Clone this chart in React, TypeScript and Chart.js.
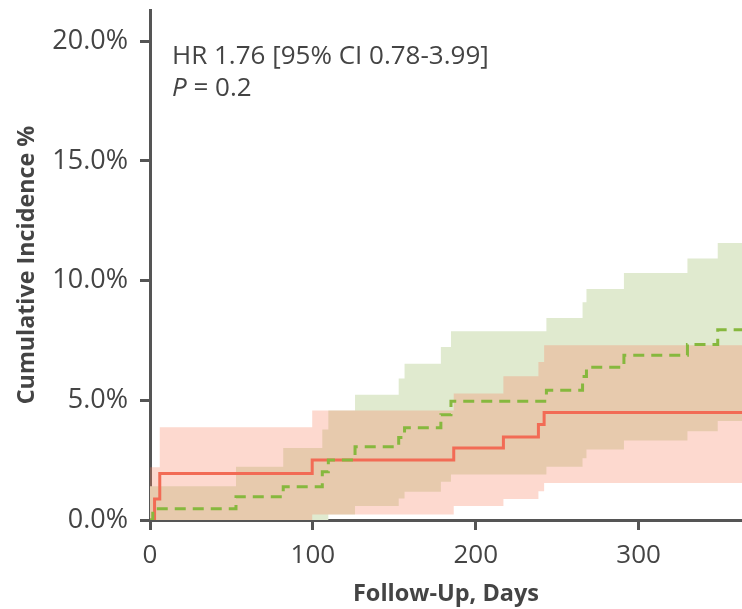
import React, { useEffect, useRef } from 'react';
import { Chart, registerables } from 'chart.js';

Chart.register(...registerables);

// ---- Data (days, cumulative incidence %) ----
const redLineDays = [0, 2.8, 6.0, 99.6, 186.5, 217.0, 238.5, 242.0, 363.5];
const redLineValues = [0, 0.88, 1.94, 2.51, 3.01, 3.47, 3.99, 4.49, 4.49];

const redUpperDays = [0, 6.0, 99.6, 186.5, 217.0, 238.5, 242.0, 363.5];
const redUpperValues = [2.2, 3.87, 4.57, 5.28, 6.0, 6.6, 7.3, 7.3];

const redLowerDays = [0, 99.6, 186.5, 217.0, 238.5, 242.0, 363.5];
const redLowerValues = [0, 0.23, 0.58, 0.88, 1.2, 1.55, 1.55];

const greenLineDays = [0, 1.7, 52.8, 81.8, 105.8, 109.5, 125.9, 152.7, 156.3, 178.6, 184.8, 243.4, 265.6, 268.0, 291.0, 330.0, 348.6, 363.5];
const greenLineValues = [0, 0.47, 0.97, 1.39, 2.01, 2.51, 3.06, 3.45, 3.85, 4.4, 4.96, 5.42, 5.99, 6.38, 6.88, 7.33, 7.95, 7.95];

const greenUpperDays = [0, 52.8, 81.8, 105.8, 109.5, 125.9, 152.7, 156.3, 178.6, 184.8, 243.4, 265.6, 268.0, 291.0, 330.0, 348.6, 363.5];
const greenUpperValues = [1.41, 2.22, 3.01, 3.78, 4.57, 5.23, 5.91, 6.53, 7.23, 7.88, 8.44, 9.09, 9.65, 10.32, 10.92, 11.57, 11.57];

const greenLowerDays = [0, 109.5, 125.9, 152.7, 156.3, 178.6, 184.8, 243.4, 265.6, 268.0, 291.0, 330.0, 348.6, 363.5];
const greenLowerValues = [0, 0.23, 0.58, 0.9, 1.18, 1.6, 1.9, 2.22, 2.58, 2.94, 3.32, 3.71, 4.13, 4.13];

const xTickValues = [0, 100, 200, 300];
const yTickValues = [0, 5, 10, 15, 20];

const hrText = 'HR 1.76 [95% CI 0.78-3.99]';
const pLabel = 'P';
const pValue = ' = 0.2';

const xTitle = 'Follow-Up, Days';
const yTitle = 'Cumulative Incidence %';

const FONT = '"Open Sans", "Noto Sans", sans-serif';
const TEXT = '#444444';
const AXIS = '#555555';

const pts = (xs: number[], ys: number[]) => xs.map((x, i) => ({ x, y: ys[i] }));

const annotationPlugin = {
  id: 'hrAnnotation',
  afterDraw(chart: any) {
    const { ctx, chartArea } = chart;
    const x0 = chartArea.left + 22;
    ctx.save();
    ctx.fillStyle = TEXT;
    ctx.textBaseline = 'alphabetic';
    ctx.textAlign = 'left';
    ctx.font = `26px ${FONT}`;
    ctx.fillText(hrText, x0, chartArea.top + 54);
    ctx.font = `italic 26px ${FONT}`;
    ctx.fillText(pLabel, x0, chartArea.top + 86);
    const w = ctx.measureText(pLabel).width;
    ctx.font = `26px ${FONT}`;
    ctx.fillText(pValue, x0 + w, chartArea.top + 86);
    ctx.restore();
  },
};

export default function App() {
  const ref = useRef<HTMLCanvasElement | null>(null);

  useEffect(() => {
    document.body.style.margin = '0';
    const canvas = ref.current;
    if (!canvas) return;
    const bandLine = { borderWidth: 0, borderColor: 'rgba(0,0,0,0)', pointRadius: 0, stepped: true as const };
    const chart = new Chart(canvas, {
      type: 'line',
      data: {
        datasets: [
          {
            label: 'green',
            data: pts(greenLineDays, greenLineValues),
            borderColor: '#86b83e',
            borderWidth: 3,
            borderDash: [11, 7],
            pointRadius: 0,
            stepped: true,
            fill: false,
            order: 0,
          },
          {
            label: 'red',
            data: pts(redLineDays, redLineValues),
            borderColor: '#f26b55',
            borderWidth: 3,
            pointRadius: 0,
            stepped: true,
            fill: false,
            order: 1,
          },
          {
            label: 'redUpper',
            data: pts(redUpperDays, redUpperValues),
            ...bandLine,
            backgroundColor: 'rgba(248,128,95,0.3)',
            fill: 3,
            order: 2,
          },
          {
            label: 'redLower',
            data: pts(redLowerDays, redLowerValues),
            ...bandLine,
            fill: false,
            order: 3,
          },
          {
            label: 'greenUpper',
            data: pts(greenUpperDays, greenUpperValues),
            ...bandLine,
            backgroundColor: 'rgb(224,234,207)',
            fill: 5,
            order: 4,
          },
          {
            label: 'greenLower',
            data: pts(greenLowerDays, greenLowerValues),
            ...bandLine,
            fill: false,
            order: 5,
          },
        ],
      },
      options: {
        animation: false,
        responsive: true,
        maintainAspectRatio: false,
        layout: { padding: { top: 10, right: 0, left: 0, bottom: 0 } },
        plugins: {
          legend: { display: false },
          tooltip: { enabled: false },
        },
        scales: {
          x: {
            type: 'linear',
            min: 0,
            max: 363.5,
            afterBuildTicks: (s: any) => {
              s.ticks = xTickValues.map((v) => ({ value: v }));
            },
            afterFit: (s: any) => {
              s.height = 89;
              s.paddingLeft = 0;
              s.paddingRight = 0;
            },
            ticks: {
              font: { family: FONT, size: 26 },
              color: TEXT,
              padding: 10,
              maxRotation: 0,
              callback: (v: any) => String(v),
            },
            grid: { drawOnChartArea: false, drawTicks: true, tickLength: 10, tickColor: AXIS, tickWidth: 3 },
            border: { display: true, color: AXIS, width: 3 },
            title: {
              display: true,
              text: xTitle,
              font: { family: FONT, size: 23.5, weight: 'bold' },
              color: TEXT,
              padding: { top: 0, bottom: 1 },
            },
          },
          y: {
            type: 'linear',
            min: 0,
            max: 21.3,
            afterBuildTicks: (s: any) => {
              s.ticks = yTickValues.map((v) => ({ value: v }));
            },
            afterFit: (s: any) => {
              s.width = 150;
              s.paddingTop = 0;
              s.paddingBottom = 0;
            },
            ticks: {
              font: { family: FONT, size: 27 },
              color: TEXT,
              padding: 12,
              callback: (v: any) => Number(v).toFixed(1) + '%',
            },
            grid: { drawOnChartArea: false, drawTicks: true, tickLength: 10, tickColor: AXIS, tickWidth: 3 },
            border: { display: true, color: AXIS, width: 3 },
            title: {
              display: true,
              text: yTitle,
              font: { family: FONT, size: 23.3, weight: 'bold' },
              color: TEXT,
              padding: { top: 13, bottom: 0 },
            },
          },
        },
      },
      plugins: [annotationPlugin],
    });
    return () => chart.destroy();
  }, []);

  return (
    <div style={{ width: 742, height: 609, position: 'relative' }}>
      <canvas ref={ref} style={{ display: 'block' }} />
    </div>
  );
}
